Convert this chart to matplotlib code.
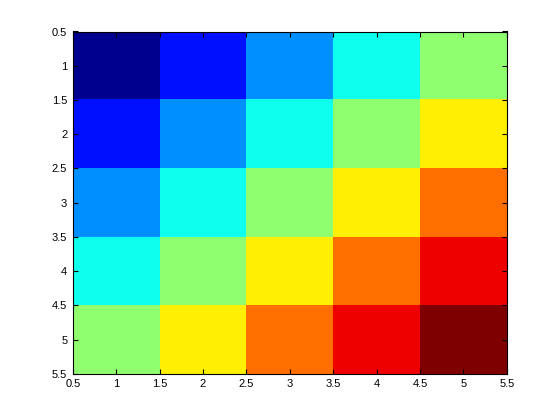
import numpy as np
import matplotlib

matplotlib.use("Agg")
import matplotlib.pyplot as plt
from matplotlib.colors import ListedColormap

# 5x5 matrix, value = row + col (1-based)
rows = [1, 2, 3, 4, 5]
cols = [1, 2, 3, 4, 5]
values = [
    [2, 3, 4, 5, 6],
    [3, 4, 5, 6, 7],
    [4, 5, 6, 7, 8],
    [5, 6, 7, 8, 9],
    [6, 7, 8, 9, 10],
]
ticks = [0.5, 1, 1.5, 2, 2.5, 3, 3.5, 4, 4.5, 5, 5.5]
tick_labels = ["0.5", "1", "1.5", "2", "2.5", "3", "3.5", "4", "4.5", "5", "5.5"]


def matlab_jet(m=64):
    n = int(np.ceil(m / 4))
    u = np.concatenate([np.arange(1, n + 1) / n, np.ones(n - 1), np.arange(n, 0, -1) / n])
    g = int(np.ceil(n / 2)) - (1 if m % 4 == 1 else 0) + np.arange(1, len(u) + 1)
    r = g + n
    b = g - n
    cmap = np.zeros((m, 3))
    for idx, col in ((r, 0), (g, 1), (b, 2)):
        ok = (idx >= 1) & (idx <= m)
        cmap[idx[ok] - 1, col] = u[ok]
    return ListedColormap(cmap)


plt.rcParams["font.family"] = ["Liberation Sans", "DejaVu Sans"]

fig = plt.figure(figsize=(5.6, 4.2), dpi=100)
ax = fig.add_axes([0.13, 0.11, 0.775, 0.815])
data = np.asarray(values, dtype=float)
ax.imshow(
    data,
    cmap=matlab_jet(64),
    vmin=data.min(),
    vmax=data.max(),
    interpolation="nearest",
    aspect="auto",
    extent=(cols[0] - 0.5, cols[-1] + 0.5, rows[-1] + 0.5, rows[0] - 0.5),
)
ax.set_xlim(0.5, 5.5)
ax.set_ylim(5.5, 0.5)
ax.set_xticks(ticks)
ax.set_xticklabels(tick_labels)
ax.set_yticks(ticks)
ax.set_yticklabels(tick_labels)
ax.tick_params(direction="in", length=3.6, width=0.8, top=True, right=True,
               labelsize=8, pad=4)
for s in ax.spines.values():
    s.set_linewidth(0.8)

fig.savefig("out.png", dpi=100)
